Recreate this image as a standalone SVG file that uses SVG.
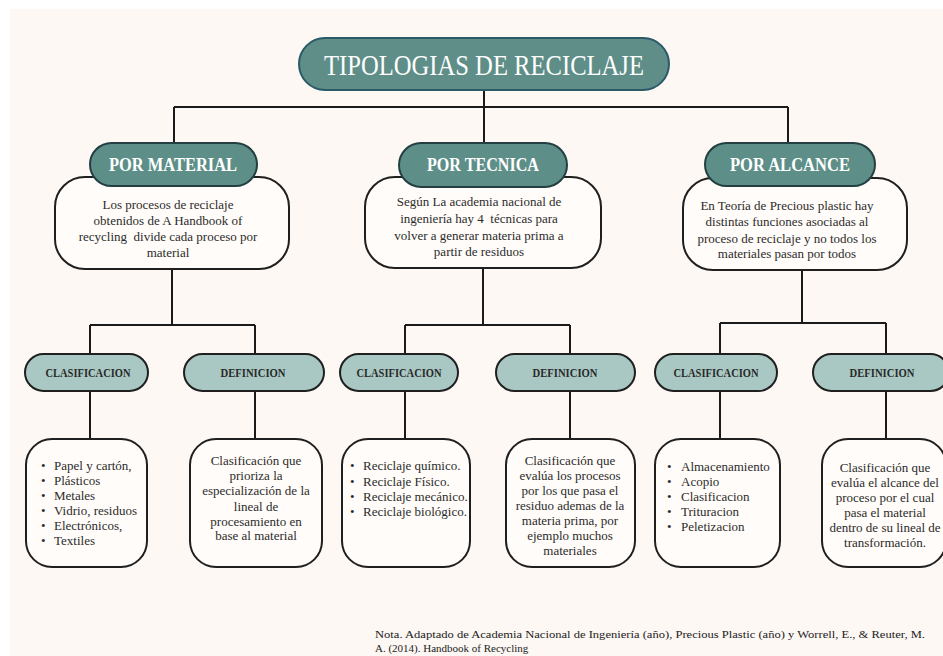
<svg xmlns="http://www.w3.org/2000/svg" width="943" height="656" viewBox="0 0 943 656">
<style>
.bg{fill:#fdf8f4}
.title{fill:#5e8e87;stroke:#2b5a66;stroke-width:2}
.head{fill:#5d8f88;stroke:#233f42;stroke-width:2}
.sub{fill:#a9c8c3;stroke:#1f1f1f;stroke-width:2}
.box{fill:#fffcf9;stroke:#1f1f1f;stroke-width:2}
.conn{fill:none;stroke:#1a1a1a;stroke-width:2}
.tt{font-family:"Liberation Serif","Times New Roman",serif;fill:#ffffff;font-size:30px;text-anchor:middle}
.ht{font-family:"Liberation Serif","Times New Roman",serif;fill:#ffffff;font-size:18px;font-weight:bold;text-anchor:middle}
.st{font-family:"Liberation Serif","Times New Roman",serif;fill:#2a2a2a;font-size:12px;font-weight:bold;text-anchor:middle}
.dt{font-family:"Liberation Serif","Times New Roman",serif;fill:#2b2b2b;font-size:13px;text-anchor:middle}
.lt{font-family:"Liberation Serif","Times New Roman",serif;fill:#2b2b2b;font-size:13px}
.nt{font-family:"Liberation Serif","Times New Roman",serif;fill:#222222;font-size:11px}
</style>
<rect x="0" y="0" width="943" height="656" fill="#ffffff"/>
<rect class="bg" x="10" y="9" width="933" height="647"/>

<g id="connectors">
<path class="conn" d="M484 90 V107 M174 107 H788 M174 107 V143 M484 107 V143 M788 107 V143"/>
<path class="conn" d="M172 269 V325 M90 325 H255 M90 325 V354 M255 325 V354 M90 391 V439 M255 391 V439"/>
<path class="conn" d="M483 268 V325 M405 325 H570 M405 325 V354 M570 325 V354 M405 391 V439 M570 391 V439"/>
<path class="conn" d="M802 270 V323 M720 323 H886 M720 323 V354 M886 323 V354 M720 391 V439 M886 391 V439"/>
</g>

<g id="title">
<rect class="title" x="299" y="38" width="370" height="52" rx="26"/>
<text class="tt" x="484" y="75" textLength="320" lengthAdjust="spacingAndGlyphs">TIPOLOGIAS DE RECICLAJE</text>
</g>

<g id="desc-material">
<rect class="box" x="55" y="177" width="234" height="92" rx="30"/>
<text class="dt" x="168" y="209">Los procesos de reciclaje</text>
<text class="dt" x="168" y="225">obtenidos de A Handbook of</text>
<text class="dt" x="168" y="241" xml:space="preserve">recycling  divide cada proceso por</text>
<text class="dt" x="168" y="257">material</text>
</g>
<g id="por-material">
<rect class="head" x="90" y="143" width="167" height="43" rx="21.5"/>
<text class="ht" x="173" y="171" textLength="128" lengthAdjust="spacingAndGlyphs">POR MATERIAL</text>
</g>

<g id="desc-tecnica">
<rect class="box" x="365" y="177" width="236" height="91" rx="30"/>
<text class="dt" x="479" y="206">Según La academia nacional de</text>
<text class="dt" x="479" y="223" xml:space="preserve">ingeniería hay 4  técnicas para</text>
<text class="dt" x="479" y="240">volver a generar materia prima a</text>
<text class="dt" x="479" y="256">partir de residuos</text>
</g>
<g id="por-tecnica">
<rect class="head" x="399" y="143" width="168" height="44" rx="22"/>
<text class="ht" x="483" y="171" textLength="112" lengthAdjust="spacingAndGlyphs">POR TECNICA</text>
</g>

<g id="desc-alcance">
<rect class="box" x="683" y="178" width="224" height="92" rx="30"/>
<text class="dt" x="787" y="210">En Teoría de Precious plastic hay</text>
<text class="dt" x="787" y="226">distintas funciones asociadas al</text>
<text class="dt" x="787" y="243">proceso de reciclaje y no todos los</text>
<text class="dt" x="787" y="258">materiales pasan por todos</text>
</g>
<g id="por-alcance">
<rect class="head" x="705" y="143" width="170" height="43" rx="21.5"/>
<text class="ht" x="790" y="171" textLength="120" lengthAdjust="spacingAndGlyphs">POR ALCANCE</text>
</g>

<g id="clas-material">
<rect class="sub" x="25" y="354" width="123" height="37" rx="18.5"/>
<text class="st" x="88" y="377" textLength="85" lengthAdjust="spacingAndGlyphs">CLASIFICACION</text>
</g>
<g id="def-material">
<rect class="sub" x="184" y="354" width="140" height="37" rx="18.5"/>
<text class="st" x="253" y="377" textLength="65" lengthAdjust="spacingAndGlyphs">DEFINICION</text>
</g>
<g id="list-material">
<rect class="box" x="26" y="439" width="121" height="128" rx="26"/>
<text class="lt" x="41" y="470">•</text><text class="lt" x="54" y="470">Papel y cartón,</text>
<text class="lt" x="41" y="485">•</text><text class="lt" x="54" y="485">Plásticos</text>
<text class="lt" x="41" y="500">•</text><text class="lt" x="54" y="500">Metales</text>
<text class="lt" x="41" y="515">•</text><text class="lt" x="54" y="515">Vidrio, residuos</text>
<text class="lt" x="41" y="530">•</text><text class="lt" x="54" y="530">Electrónicos,</text>
<text class="lt" x="41" y="545">•</text><text class="lt" x="54" y="545">Textiles</text>
</g>
<g id="text-def-material">
<rect class="box" x="190" y="439" width="132" height="128" rx="26"/>
<text class="dt" x="256" y="465">Clasificación que</text>
<text class="dt" x="256" y="480">prioriza la</text>
<text class="dt" x="256" y="495">especialización de la</text>
<text class="dt" x="256" y="511">lineal de</text>
<text class="dt" x="256" y="526">procesamiento en</text>
<text class="dt" x="256" y="540">base al material</text>
</g>

<g id="clas-tecnica">
<rect class="sub" x="340" y="354" width="118" height="37" rx="18.5"/>
<text class="st" x="399" y="377" textLength="85" lengthAdjust="spacingAndGlyphs">CLASIFICACION</text>
</g>
<g id="def-tecnica">
<rect class="sub" x="496" y="354" width="139" height="37" rx="18.5"/>
<text class="st" x="565" y="377" textLength="65" lengthAdjust="spacingAndGlyphs">DEFINICION</text>
</g>
<g id="list-tecnica">
<rect class="box" x="342" y="439" width="128" height="128" rx="26"/>
<text class="lt" x="350" y="470">•</text><text class="lt" x="363" y="470">Reciclaje químico.</text>
<text class="lt" x="350" y="486">•</text><text class="lt" x="363" y="486">Reciclaje Físico.</text>
<text class="lt" x="350" y="501">•</text><text class="lt" x="363" y="501">Reciclaje mecánico.</text>
<text class="lt" x="350" y="516">•</text><text class="lt" x="363" y="516">Reciclaje biológico.</text>
</g>
<g id="text-def-tecnica">
<rect class="box" x="506" y="439" width="129" height="128" rx="26"/>
<text class="dt" x="570" y="465">Clasificación que</text>
<text class="dt" x="570" y="480">evalúa los procesos</text>
<text class="dt" x="570" y="495">por los que pasa el</text>
<text class="dt" x="570" y="510">residuo ademas de la</text>
<text class="dt" x="570" y="525">materia prima, por</text>
<text class="dt" x="570" y="540">ejemplo muchos</text>
<text class="dt" x="570" y="555">materiales</text>
</g>

<g id="clas-alcance">
<rect class="sub" x="655" y="354" width="122" height="37" rx="18.5"/>
<text class="st" x="716" y="377" textLength="85" lengthAdjust="spacingAndGlyphs">CLASIFICACION</text>
</g>
<g id="def-alcance">
<rect class="sub" x="813" y="354" width="136" height="37" rx="18.5"/>
<text class="st" x="882" y="377" textLength="65" lengthAdjust="spacingAndGlyphs">DEFINICION</text>
</g>
<g id="list-alcance">
<rect class="box" x="655" y="439" width="125" height="128" rx="26"/>
<text class="lt" x="667" y="471">•</text><text class="lt" x="681" y="471">Almacenamiento</text>
<text class="lt" x="667" y="486">•</text><text class="lt" x="681" y="486">Acopio</text>
<text class="lt" x="667" y="501">•</text><text class="lt" x="681" y="501">Clasificacion</text>
<text class="lt" x="667" y="516">•</text><text class="lt" x="681" y="516">Trituracion</text>
<text class="lt" x="667" y="531">•</text><text class="lt" x="681" y="531">Peletizacion</text>
</g>
<g id="text-def-alcance">
<rect class="box" x="822" y="439" width="124" height="128" rx="26"/>
<text class="dt" x="885" y="472">Clasificación que</text>
<text class="dt" x="885" y="487">evalúa el alcance del</text>
<text class="dt" x="885" y="502">proceso por el cual</text>
<text class="dt" x="885" y="517">pasa el material</text>
<text class="dt" x="885" y="532">dentro de su lineal de</text>
<text class="dt" x="885" y="547">transformación.</text>
</g>

<g id="nota">
<text class="nt" x="375" y="638" textLength="550" lengthAdjust="spacingAndGlyphs">Nota. Adaptado de Academia Nacional de Ingeniería (año), Precious Plastic (año) y Worrell, E., &amp; Reuter, M.</text>
<text class="nt" x="375" y="652">A. (2014). Handbook of Recycling</text>
</g>
</svg>
